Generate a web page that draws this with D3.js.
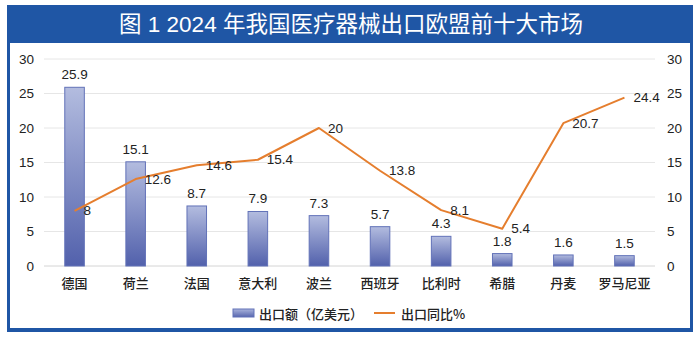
<!DOCTYPE html>
<html><head><meta charset="utf-8">
<script src="https://cdn.jsdelivr.net/npm/d3@7"></script>
<style>
body{margin:0;background:#fff;}
svg{display:block;font-family:"Liberation Sans","Noto Sans CJK SC",sans-serif;}
</style></head>
<body><svg id="c" width="700" height="339"></svg>
<script>
const title = "图 1 2024 年我国医疗器械出口欧盟前十大市场";
const categories = ["德国","荷兰","法国","意大利","波兰","西班牙","比利时","希腊","丹麦","罗马尼亚"];
const exportValues = [25.9,15.1,8.7,7.9,7.3,5.7,4.3,1.8,1.6,1.5];
const growthRates = [8,12.6,14.6,15.4,20,13.8,8.1,5.4,20.7,24.4];
const yTicks = [0,5,10,15,20,25,30];
const legendLabels = ["出口额（亿美元）","出口同比%"];

(function(){
const svg = d3.select("#c");
const defs = svg.append("defs");
const g1 = defs.append("linearGradient").attr("id","barGrad").attr("x1",0).attr("y1",0).attr("x2",0).attr("y2",1);
g1.append("stop").attr("offset","0%").attr("stop-color","#b3bcdf");
g1.append("stop").attr("offset","100%").attr("stop-color","#5261ac");
const g2 = defs.append("linearGradient").attr("id","legGrad").attr("x1",0).attr("y1",0).attr("x2",0).attr("y2",1);
g2.append("stop").attr("offset","0%").attr("stop-color","#a9b3dc");
g2.append("stop").attr("offset","100%").attr("stop-color","#5866ae");

// frame
svg.append("rect").attr("x",7).attr("y",5).attr("width",686).attr("height",327).attr("fill","#1f56a5");
svg.append("rect").attr("x",10).attr("y",43).attr("width",680).attr("height",285).attr("fill","#fff");
svg.append("text").attr("x",351).attr("y",24).attr("text-anchor","middle").attr("dominant-baseline","central")
  .attr("fill","#fff").attr("font-size",22.5).attr("font-family","'Liberation Sans','Noto Sans CJK SC',sans-serif").text(title);

const pl=44, pr=655, pt=59, pb=266;
const x = d3.scaleBand().domain(categories).range([pl,pr]).paddingInner(0.68).paddingOuter(0.34);
const xc = d => x(d)+x.bandwidth()/2;
const y = d3.scaleLinear().domain([0,30]).range([pb,pt]);
const y2 = d3.scaleLinear().domain([0,30]).range([pb,pt]);

// grid
svg.append("g").selectAll("line").data(yTicks).join("line")
  .attr("x1",pl).attr("x2",pr).attr("y1",d=>y(d)).attr("y2",d=>y(d))
  .attr("stroke",d=>d===0?"#d4d4d4":"#e6e6e6").attr("stroke-width",1);

// axes
const ax = svg.append("g").attr("transform",`translate(${pl-10},0)`)
  .call(d3.axisLeft(y).tickValues(yTicks).tickSize(0).tickPadding(0));
ax.select(".domain").remove();
ax.selectAll("text").attr("font-size",13.5).attr("fill","#222").attr("font-family","'Liberation Sans',sans-serif");
const ax2 = svg.append("g").attr("transform",`translate(${pr+12},0)`)
  .call(d3.axisRight(y2).tickValues(yTicks).tickSize(0).tickPadding(0));
ax2.select(".domain").remove();
ax2.selectAll("text").attr("font-size",13.5).attr("fill","#222").attr("font-family","'Liberation Sans',sans-serif");
const axb = svg.append("g").attr("transform",`translate(0,${pb+10})`)
  .call(d3.axisBottom(x).tickSize(0).tickPadding(0));
axb.select(".domain").remove();
axb.selectAll("text").attr("font-size",13).attr("fill","#222").attr("dy","0.9em")
  .attr("font-family","'Noto Sans CJK SC',sans-serif").attr("font-weight",500);

// bars
svg.append("g").selectAll("rect").data(categories).join("rect")
  .attr("x",d=>x(d)).attr("width",x.bandwidth())
  .attr("y",(d,i)=>y(exportValues[i])).attr("height",(d,i)=>pb-y(exportValues[i]))
  .attr("fill","url(#barGrad)").attr("stroke","#6272b8").attr("stroke-width",1);
svg.append("g").selectAll("text").data(categories).join("text")
  .attr("x",d=>xc(d)).attr("y",(d,i)=>y(exportValues[i])-8)
  .attr("text-anchor","middle").attr("font-size",13.5).attr("fill","#222").text((d,i)=>exportValues[i]);

// line
const line = d3.line().x((d,i)=>xc(categories[i])).y(d=>y2(d));
svg.append("path").datum(growthRates).attr("d",line).attr("fill","none")
  .attr("stroke","#e57e2e").attr("stroke-width",2).attr("stroke-linejoin","round");
svg.append("g").selectAll("text").data(growthRates).join("text")
  .attr("x",(d,i)=>xc(categories[i])+9).attr("y",d=>y2(d)).attr("dominant-baseline","central")
  .attr("font-size",13.5).attr("fill","#222").text(d=>d);

// legend
const lg = svg.append("g");
lg.append("rect").attr("x",233).attr("y",309).attr("width",21).attr("height",8).attr("fill","url(#legGrad)").attr("stroke","#6272b8");
lg.append("text").attr("x",259).attr("y",313).attr("dominant-baseline","central").attr("font-size",13)
  .attr("font-family","'Noto Sans CJK SC',sans-serif").attr("font-weight",500).attr("fill","#222").text(legendLabels[0]);
lg.append("line").attr("x1",374).attr("x2",395).attr("y1",313).attr("y2",313).attr("stroke","#e57e2e").attr("stroke-width",2);
lg.append("text").attr("x",401).attr("y",313).attr("dominant-baseline","central").attr("font-size",13)
  .attr("font-family","'Noto Sans CJK SC',sans-serif").attr("font-weight",500).attr("fill","#222").text(legendLabels[1]);
})();
</script></body></html>
